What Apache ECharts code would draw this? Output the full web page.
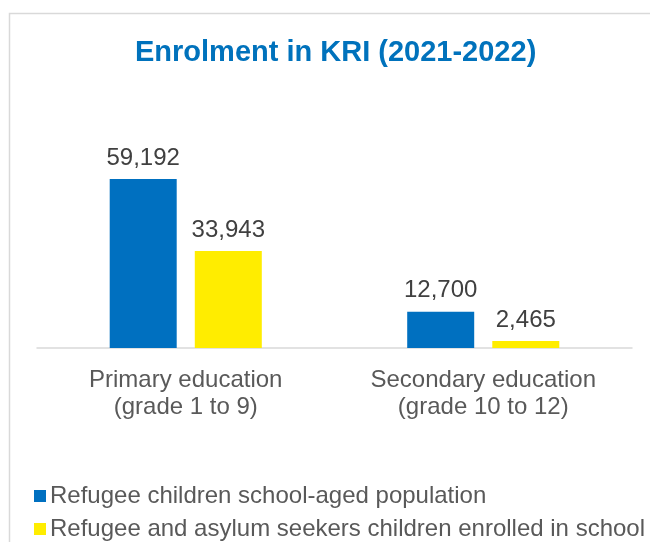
<!DOCTYPE html>
<html>
<head>
<meta charset="utf-8">
<script src="https://cdn.jsdelivr.net/npm/echarts@6/dist/echarts.min.js"></script>
<style>html,body{margin:0;padding:0;background:#fff;}#c{width:650px;height:542px;}</style>
</head>
<body>
<div id="c"></div>
<script>
var categories = ['Primary education\n(grade 1 to 9)', 'Secondary education\n(grade 10 to 12)'];
var seriesNames = ['Refugee children school-aged population', 'Refugee and asylum seekers children enrolled in school'];
var populationValues = [59192, 12700];
var enrolledValues = [33943, 2465];

var chart = echarts.init(document.getElementById('c'));
var font = 'Liberation Sans, Arial, sans-serif';
function fmt(p){ return p.value.toLocaleString('en-US'); }
chart.setOption({
  animation: false,
  backgroundColor: '#fff',
  graphic: [{
    type: 'rect', left: 7, top: 11,
    shape: { width: 700, height: 600 },
    style: { fill: 'none', stroke: '#d9d9d9', lineWidth: 1.5 },
    silent: true, z: -1
  }],
  title: {
    text: 'Enrolment in KRI (2021-2022)',
    left: 130, top: 33,
    textStyle: { color: '#0072BC', fontSize: 29, fontWeight: 'bold', fontFamily: font }
  },
  legend: {
    orient: 'vertical', left: 34, top: 484, height: 80, width: 640,
    itemWidth: 12, itemHeight: 12, itemGap: 9,
    icon: 'rect',
    padding: 0,
    textStyle: { color: '#595959', fontSize: 24, fontFamily: font, padding: [0,0,0,-1] },
    data: seriesNames
  },
  grid: { left: 37, right: 18, top: 148, bottom: 194, containLabel: false },
  xAxis: {
    type: 'category', data: categories,
    axisLine: { lineStyle: { color: '#d9d9d9', width: 1.5 } },
    axisTick: { show: false },
    axisLabel: { color: '#595959', fontSize: 24, fontFamily: font, lineHeight: 27, margin: 19 }
  },
  yAxis: {
    type: 'value', min: 0, max: 70000, show: false,
    splitLine: { show: false }
  },
  series: [
    { name: seriesNames[0], type: 'bar', data: populationValues, barWidth: 67, barGap: '27%',
      itemStyle: { color: '#0070C0' },
      label: { show: true, position: 'top', distance: 9, formatter: fmt, color: '#404040', fontSize: 24, fontFamily: font } },
    { name: seriesNames[1], type: 'bar', data: enrolledValues, barWidth: 67,
      itemStyle: { color: '#FFED00' },
      label: { show: true, position: 'top', distance: 9, formatter: fmt, color: '#404040', fontSize: 24, fontFamily: font } }
  ]
});
</script>
</body>
</html>
